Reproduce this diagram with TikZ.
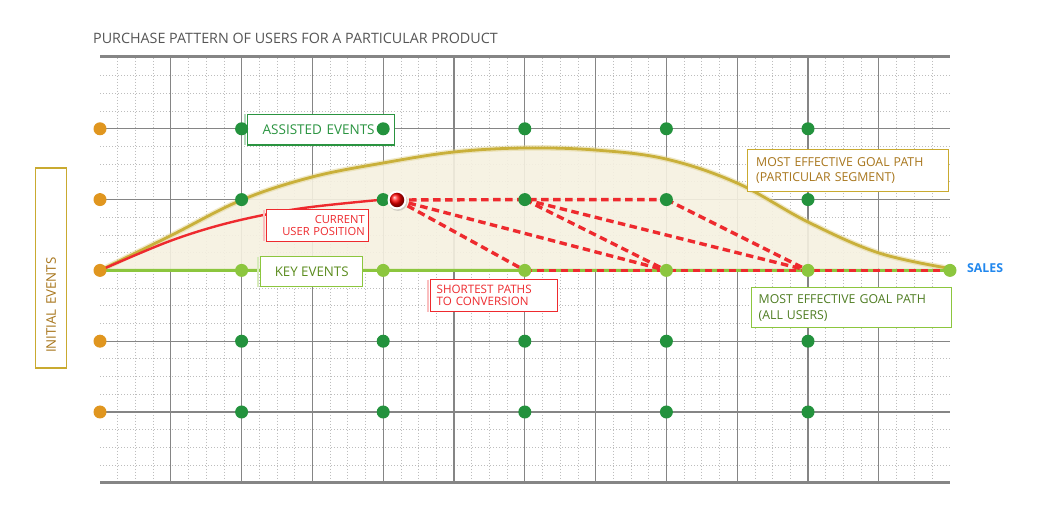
\documentclass[tikz,border=0pt]{standalone}
\usepackage{fontspec}
\setmainfont{Open Sans}
\usetikzlibrary{shadows}
\pgfdeclarelayer{bg}
\pgfdeclarelayer{mid}
\pgfsetlayers{bg,mid,main}
\definecolor{gridmajor}{HTML}{858585}
\definecolor{gridminor}{HTML}{BDBDBD}
\definecolor{titlegray}{HTML}{555555}
\definecolor{dotorange}{HTML}{E0961F}
\definecolor{dotgreen}{HTML}{23923D}
\definecolor{keygreen}{HTML}{8CC63E}
\definecolor{curveolive}{HTML}{C9B03A}
\definecolor{fillbeige}{HTML}{F6F1E1}
\definecolor{pathred}{HTML}{EE2A2E}
\definecolor{salesblue}{HTML}{2288EE}
\definecolor{asstext}{HTML}{2A9440}
\definecolor{keytext}{HTML}{5B8C1E}
\definecolor{segtext}{HTML}{A8761C}
\definecolor{segborder}{HTML}{C9AA30}
\definecolor{alltext}{HTML}{4F7D22}
\begin{document}
\begin{tikzpicture}[x=1pt,y=-1pt,
  minorline/.style={gridminor,line width=0.8pt,dash pattern=on 1pt off 2pt},
  majorline/.style={gridmajor,line width=1.15pt},
  frameline/.style={gridmajor,line width=3pt},
  dotbase/.style={circle,inner sep=0pt,minimum size=13pt},
  odot/.style={dotbase,fill=dotorange},
  gdot/.style={dotbase,fill=dotgreen},
  ldot/.style={dotbase,fill=keygreen},
  dashpath/.style={pathred,line width=3.4pt,dash pattern=on 7.5pt off 4.5pt},
  labelbox/.style={draw,fill=white,line width=1.4pt,inner ysep=0pt,anchor=north west},
  stripline/.style={line width=2.4pt}
]
\useasboundingbox (0,0) rectangle (1042,526);

% ---------- grid, fill and curves ----------
\begin{pgfonlayer}{bg}
  \fill[white] (0,0) rectangle (1042,526);
  \foreach \i in {1,...,47}{
    \pgfmathtruncatemacro\m{mod(\i,4)}
    \ifnum\m=0\relax\else
      \draw[minorline] ({100+17.7*\i},58) -- ({100+17.7*\i},482.8);
    \fi
  }
  \foreach \j in {1,...,23}{
    \pgfmathtruncatemacro\m{mod(\j,4)}
    \ifnum\m=0\relax\else
      \draw[minorline] (100,{58+17.7*\j}) -- (950,{58+17.7*\j});
    \fi
  }
  \foreach \k in {1,...,11}
    \draw[majorline] ({100+70.8*\k},58) -- ({100+70.8*\k},482.8);
  \foreach \k in {1,...,5}
    \draw[majorline] (100,{58+70.8*\k}) -- (950,{58+70.8*\k});
  \draw[frameline] (100,57) -- (950,57);
  \draw[frameline] (100,482.5) -- (950,482.5);

  \fill[fillbeige,opacity=0.9] plot[smooth,tension=0.6] coordinates {(100,270.4) (170,236) (241.6,200) (312,177) (383,163) (454,152) (524,148) (595,150) (666,159) (737,183) (808,222) (879,253) (950,268.5)} -- cycle;
  \draw[curveolive!60,line width=5.5pt,opacity=0.45] plot[smooth,tension=0.6] coordinates {(100,270.4) (170,236) (241.6,200) (312,177) (383,163) (454,152) (524,148) (595,150) (666,159) (737,183) (808,222) (879,253) (950,268.5)};
  \draw[curveolive,line width=2.8pt] plot[smooth,tension=0.6] coordinates {(100,270.4) (170,236) (241.6,200) (312,177) (383,163) (454,152) (524,148) (595,150) (666,159) (737,183) (808,222) (879,253) (950,268.5)};
  \draw[pathred,line width=2.4pt] plot[smooth,tension=0.55] coordinates {(100,270.4) (170,241) (230,222.5) (300,208.5) (383.2,199.6)};
\end{pgfonlayer}

% ---------- labels ----------
\node[font=\fontsize{14.3}{16}\selectfont,text=titlegray,inner sep=0pt,anchor=base west] (title) at (93,43.3) {PURCHASE PATTERN OF USERS FOR A PARTICULAR PRODUCT};

\node[labelbox,draw=asstext,text=asstext,inner xsep=15pt,text width=117pt,align=left,minimum height=30.6pt,font=\fontsize{13.5}{15}\selectfont] (assisted) at (247,113.7) {ASSISTED EVENTS};
\node[labelbox,draw=keygreen,text=keytext,inner xsep=0pt,minimum width=102pt,minimum height=30pt,font=\fontsize{13.3}{15}\selectfont] (keyev) at (260,256) {KEY EVENTS};
\node[labelbox,draw=pathred,text=pathred,inner xsep=4pt,text width=94pt,align=right,minimum height=31.7pt,font=\fontsize{11.2}{12.4}\selectfont] (current) at (266,209) {CURRENT\\USER POSITION};
\node[labelbox,draw=pathred,text=pathred,inner xsep=6pt,text width=115pt,align=left,minimum height=32pt,font=\fontsize{11.6}{12.2}\selectfont] (shortest) at (430,279) {SHORTEST PATHS\\TO CONVERSION};
\node[labelbox,draw=segborder,text=segtext,inner xsep=8.5pt,text width=184pt,align=left,minimum height=41.7pt,font=\fontsize{12.3}{15.7}\selectfont] (segment) at (747,149) {MOST EFFECTIVE GOAL PATH\\(PARTICULAR SEGMENT)};
\node[labelbox,draw=keygreen,text=alltext,inner xsep=7pt,text width=186pt,align=left,minimum height=40pt,font=\fontsize{12.3}{15.7}\selectfont] (allusers) at (751,287) {MOST EFFECTIVE GOAL PATH\\(ALL USERS)};
\node[draw=segborder,fill=white,line width=1.4pt,text=segtext,rotate=90,inner xsep=15pt,text width=170pt,align=left,minimum height=30.6pt,inner ysep=0pt,font=\fontsize{13.3}{15}\selectfont] (initial) at (51,268) {INITIAL EVENTS};

% soft left edges of some boxes
\draw[stripline,asstext!35] ([xshift=-1.9pt,yshift=-0.7pt]assisted.north west) -- ([xshift=-1.9pt,yshift=0.7pt]assisted.south west);
\draw[stripline,keygreen!35] ([xshift=-1.9pt,yshift=-0.7pt]keyev.north west) -- ([xshift=-1.9pt,yshift=0.7pt]keyev.south west);
\draw[stripline,pathred!30] ([xshift=-1.9pt,yshift=-0.7pt]current.north west) -- ([xshift=-1.9pt,yshift=0.7pt]current.south west);
\draw[stripline,pathred!30] ([xshift=-1.9pt,yshift=-0.7pt]shortest.north west) -- ([xshift=-1.9pt,yshift=0.7pt]shortest.south west);

% ---------- dots ----------
\foreach \r in {1,...,5}
  \node[odot] (o\r) at (100,{58+70.8*\r}) {};
\foreach \c in {1,...,5}{
  \foreach \r in {1,2,4,5}
    \node[gdot] (g\c\r) at ({100+141.6*\c},{58+70.8*\r}) {};
  \node[ldot] (l\c) at ({100+141.6*\c},270.4) {};
}
\node[ldot] (l6) at (950,270.4) {};
\node[font=\bfseries\fontsize{12.3}{14}\selectfont,text=salesblue,inner sep=0pt,anchor=base west] (sales) at (967,272.7) {SALES};

% ---------- current user position ----------
\node[circle,fill=white,inner sep=0pt,minimum size=19pt,drop shadow={shadow xshift=1pt,shadow yshift=-1.5pt,opacity=0.3}] (ballrim) at (397,200) {};
\node[circle,inner sep=0pt,minimum size=14.5pt,shading=ball,ball color=red] (ball) at (397,200) {};

% ---------- connectors ----------
\begin{pgfonlayer}{mid}
  \draw[keygreen,line width=3pt] (o3.center) -- (l6.center);
  \draw[dashpath] (ball.center) -- (g32.center) -- (g42.center);
  \draw[dashpath] (ball.center) -- (l3.center);
  \draw[dashpath] (ball.center) -- (l4.center);
  \draw[dashpath] (g32.center) -- (l4.center);
  \draw[dashpath] (g32.center) -- (l5.center);
  \draw[dashpath] (g42.center) -- (l5.center);
  \draw[dashpath] (l3.center) -- (l6.center);
\end{pgfonlayer}
\end{tikzpicture}
\end{document}
